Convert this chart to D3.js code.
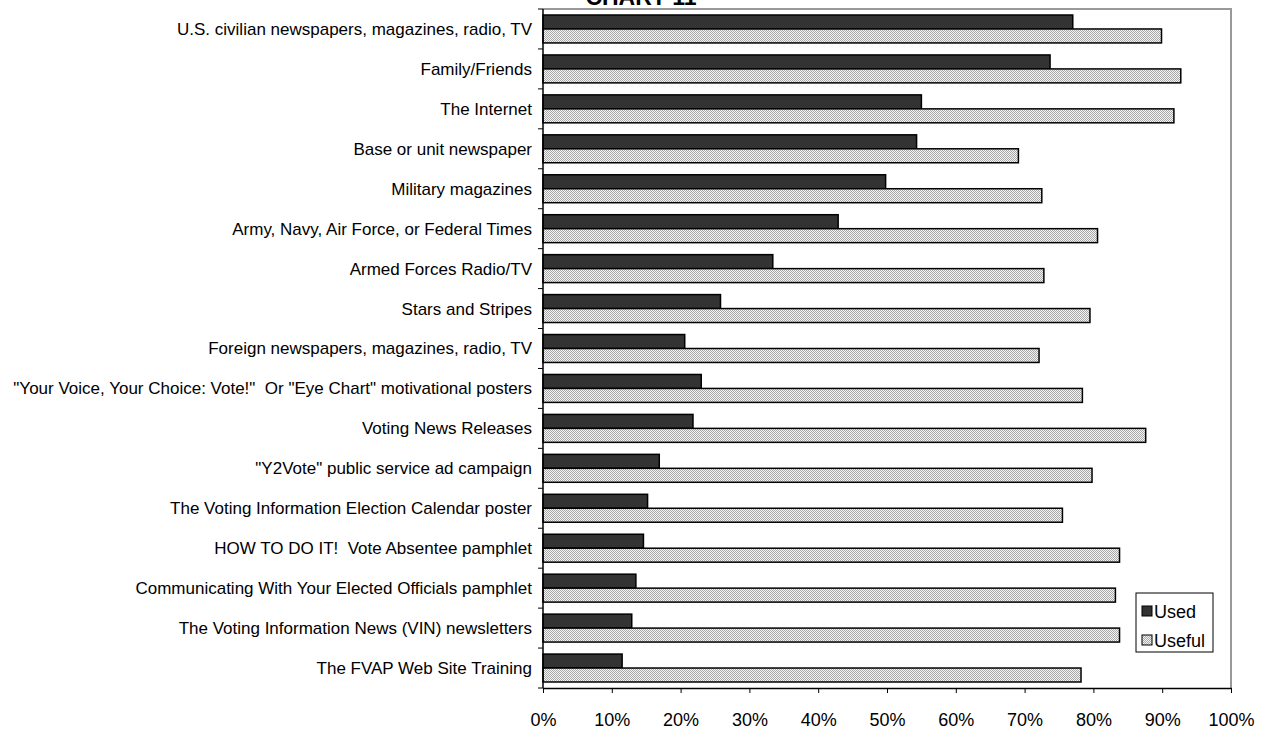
<!DOCTYPE html>
<html>
<head>
<meta charset="utf-8">
<script src="https://cdn.jsdelivr.net/npm/d3@7"></script>
<style>
  html, body { margin: 0; padding: 0; background: #fff; overflow: hidden; }
  svg { display: block; font-family: Arial, "Liberation Sans", sans-serif; }
  text { white-space: pre; }
</style>
</head>
<body>
<svg id="chart" width="1267" height="729"></svg>
<script>
// Information sources: share who used each source, and share who found it useful
const categories = [
  "U.S. civilian newspapers, magazines, radio, TV",
  "Family/Friends",
  "The Internet",
  "Base or unit newspaper",
  "Military magazines",
  "Army, Navy, Air Force, or Federal Times",
  "Armed Forces Radio/TV",
  "Stars and Stripes",
  "Foreign newspapers, magazines, radio, TV",
  "\"Your Voice, Your Choice: Vote!\"  Or \"Eye Chart\" motivational posters",
  "Voting News Releases",
  "\"Y2Vote\" public service ad campaign",
  "The Voting Information Election Calendar poster",
  "HOW TO DO IT!  Vote Absentee pamphlet",
  "Communicating With Your Elected Officials pamphlet",
  "The Voting Information News (VIN) newsletters",
  "The FVAP Web Site Training"
];
const used   = [77.0, 73.7, 55.0, 54.3, 49.8, 42.9, 33.4, 25.8, 20.6, 23.0, 21.8, 16.9, 15.2, 14.6, 13.5, 12.9, 11.5];
const useful = [89.9, 92.7, 91.7, 69.1, 72.5, 80.6, 72.8, 79.5, 72.1, 78.4, 87.6, 79.8, 75.5, 83.8, 83.2, 83.8, 78.2];
const seriesNames = ["Used", "Useful"];
const xTicks = [0, 10, 20, 30, 40, 50, 60, 70, 80, 90, 100];
const title = "CHART 11";

const svg = d3.select("#chart");
const plot = { left: 543, right: 1231, top: 9, bottom: 688 };

// Fine dotted fill for the "Useful" bars
const defs = svg.append("defs");
const pat = defs.append("pattern")
  .attr("id", "dots").attr("patternUnits", "userSpaceOnUse")
  .attr("width", 2).attr("height", 2);
pat.append("rect").attr("width", 2).attr("height", 2).attr("fill", "#f4f4f4");
pat.append("rect").attr("x", 0).attr("y", 0).attr("width", 1).attr("height", 1).attr("fill", "#a8a8a8");
pat.append("rect").attr("x", 1).attr("y", 1).attr("width", 1).attr("height", 1).attr("fill", "#a8a8a8");

const fills = { Used: "#333333", Useful: "url(#dots)" };

const x = d3.scaleLinear().domain([0, 100]).range([plot.left, plot.right]);
const y = d3.scaleBand().domain(categories).range([plot.top, plot.bottom]).padding(0);
const ySeries = d3.scaleBand().domain(seriesNames).range([0, y.bandwidth()])
  .paddingInner(0).paddingOuter(0.43);

const rows = categories.map((c, i) => ({ cat: c, Used: used[i], Useful: useful[i] }));

// Plot-area frame (top and right edges)
svg.append("path")
  .attr("d", `M${plot.left},${plot.top}H${plot.right}V${plot.bottom}`)
  .attr("fill", "none").attr("stroke", "#999").attr("stroke-width", 2);

// Bars
const g = svg.append("g");
rows.forEach(r => {
  seriesNames.forEach(s => {
    g.append("rect")
      .attr("x", x(0))
      .attr("y", y(r.cat) + ySeries(s))
      .attr("width", x(r[s]) - x(0))
      .attr("height", ySeries.bandwidth())
      .attr("fill", fills[s])
      .attr("stroke", "#000")
      .attr("stroke-width", 1.5);
  });
});

// Category axis: ticks on category boundaries, labels centred in each band
const yAxisG = svg.append("g");
yAxisG.append("line")
  .attr("x1", plot.left).attr("x2", plot.left)
  .attr("y1", plot.top).attr("y2", plot.bottom)
  .attr("stroke", "#000").attr("stroke-width", 1.5);
const boundaries = categories.map(c => y(c)).concat([plot.bottom]);
yAxisG.selectAll("line.tick").data(boundaries).join("line")
  .attr("class", "tick")
  .attr("x1", plot.left - 5).attr("x2", plot.left)
  .attr("y1", d => d).attr("y2", d => d)
  .attr("stroke", "#000").attr("stroke-width", 1);
yAxisG.selectAll("text").data(categories).join("text")
  .attr("x", plot.left - 11)
  .attr("y", d => y(d) + y.bandwidth() / 2)
  .attr("dy", "0.35em")
  .attr("text-anchor", "end")
  .attr("font-size", 17)
  .attr("fill", "#000")
  .text(d => d);

// Value axis
const xAxis = d3.axisBottom(x).tickValues(xTicks).tickFormat(d => d + "%")
  .tickSizeInner(5).tickSizeOuter(0).tickPadding(20);
const xAxisG = svg.append("g").attr("transform", `translate(0,${plot.bottom})`).call(xAxis);
xAxisG.select(".domain").attr("stroke", "#000").attr("stroke-width", 1.5);
xAxisG.selectAll(".tick line").attr("stroke", "#000");
xAxisG.selectAll(".tick text")
  .attr("font-size", 18).attr("fill", "#000")
  .attr("font-family", "Arial, 'Liberation Sans', sans-serif");

// Title
svg.append("text")
  .attr("x", 641).attr("y", 5)
  .attr("text-anchor", "middle")
  .attr("font-size", 23).attr("font-weight", "bold")
  .text(title);

// Legend
const lg = svg.append("g").attr("transform", "translate(1136,593)");
lg.append("rect").attr("width", 77).attr("height", 59)
  .attr("fill", "#fff").attr("stroke", "#000").attr("stroke-width", 1);
seriesNames.forEach((s, i) => {
  const cy = 19 + i * 29;
  lg.append("rect").attr("x", 6).attr("y", cy - 6).attr("width", 10).attr("height", 10)
    .attr("fill", fills[s]).attr("stroke", "#000").attr("stroke-width", 1);
  lg.append("text").attr("x", 18).attr("y", cy).attr("dy", "0.35em")
    .attr("font-size", 18).attr("fill", "#000").text(s);
});
</script>
</body>
</html>
